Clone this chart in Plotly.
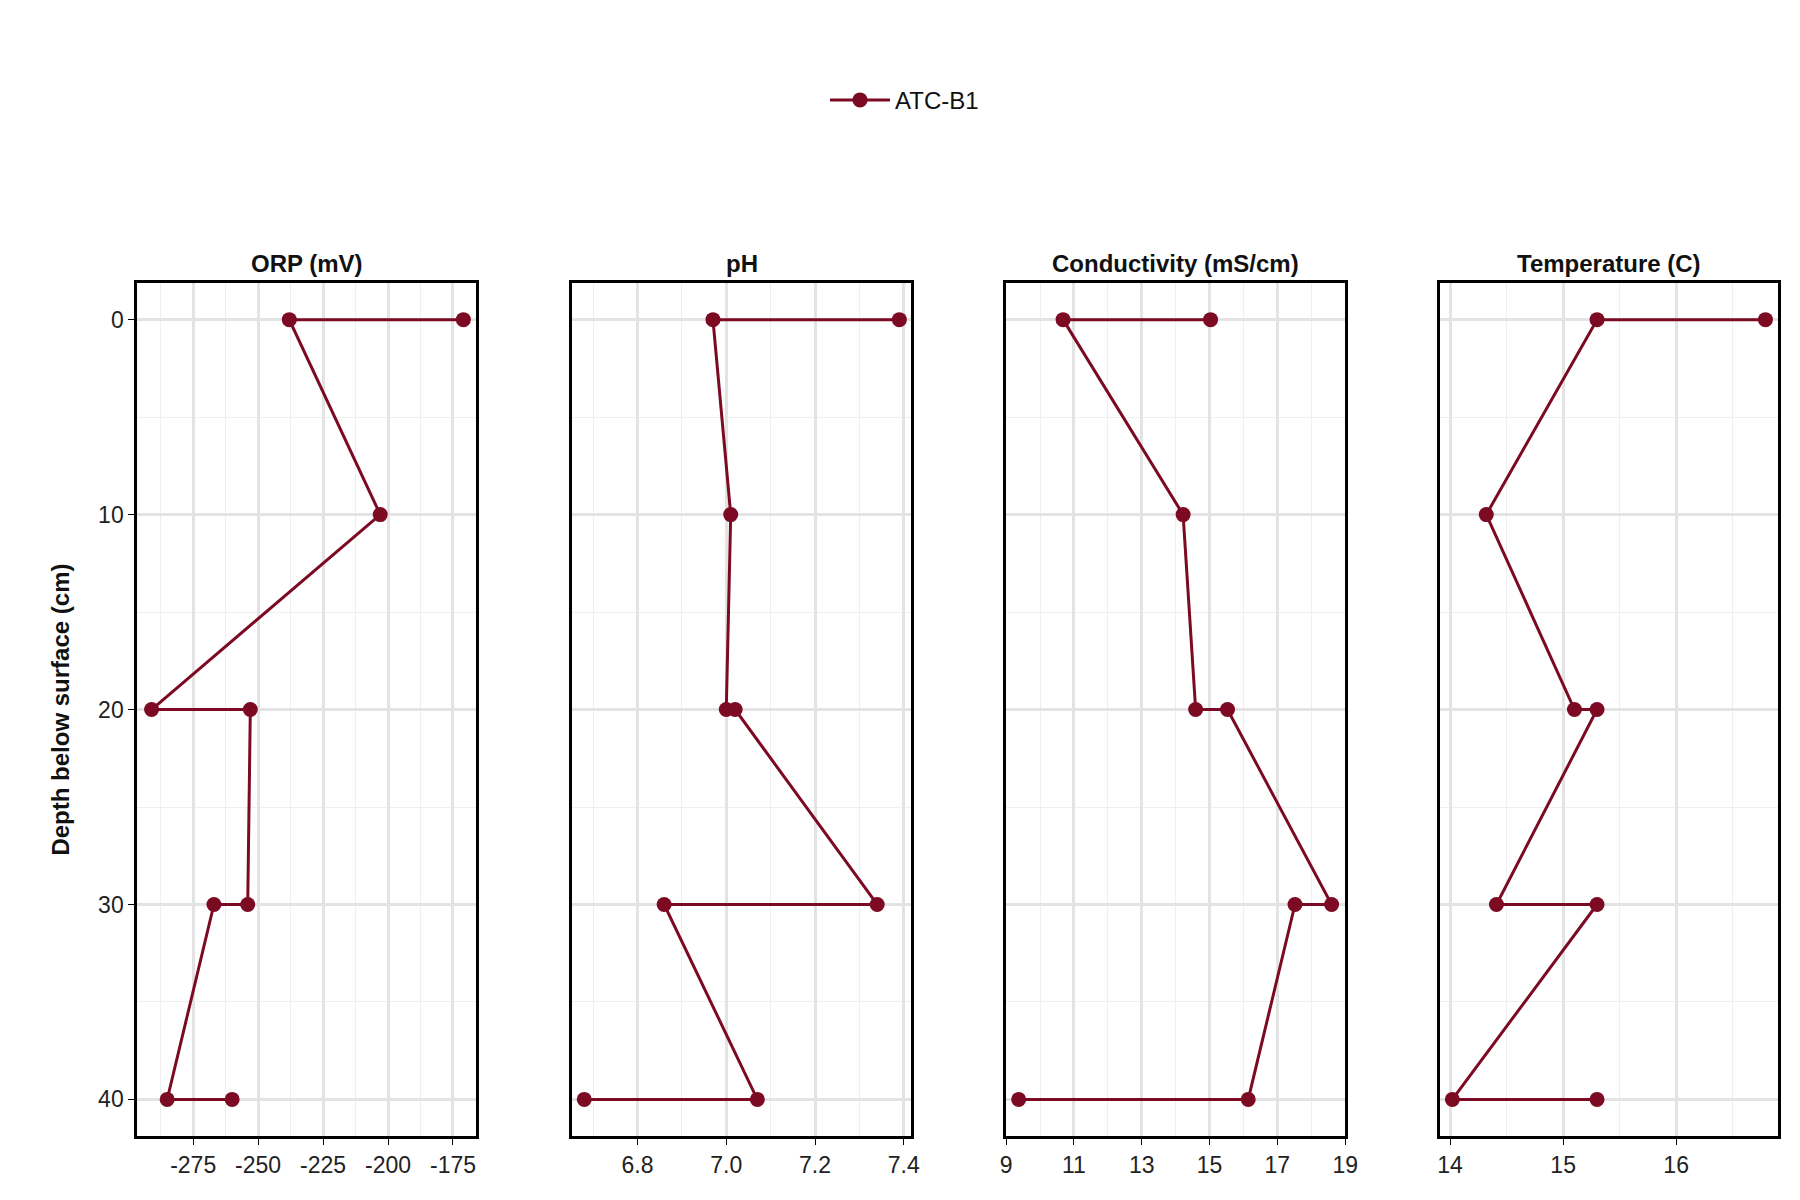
import plotly.graph_objects as go

# Depth profile data (ATC-B1)
depth = [0, 0, 10, 20, 20, 30, 30, 40, 40]
orp = [-171, -238, -203, -291, -253, -254, -267, -285, -260]
ph = [7.39, 6.97, 7.01, 7.00, 7.02, 7.34, 6.86, 7.07, 6.68]
cond = [15.03, 10.68, 14.22, 14.59, 15.53, 18.6, 17.52, 16.14, 9.37]
temp = [16.79, 15.3, 14.32, 15.1, 15.3, 14.41, 15.3, 14.02, 15.3]

titles = ["ORP (mV)", "pH", "Conductivity (mS/cm)", "Temperature (C)"]
series = [orp, ph, cond, temp]
ranges = [[-296.5, -166], [6.653, 7.417], [9, 19], [13.91, 16.9]]
tickvals = [[-275, -250, -225, -200, -175], [6.8, 7.0, 7.2, 7.4],
            [9, 11, 13, 15, 17, 19], [14, 15, 16]]
ticktext = [["-275", "-250", "-225", "-200", "-175"], ["6.8", "7.0", "7.2", "7.4"],
            ["9", "11", "13", "15", "17", "19"], ["14", "15", "16"]]
minor = [12.5, 0.1, 1, 0.5]
domains = [[108, 405], [489, 786], [869, 1166], [1249, 1545]]

color = "#7b0a22"
W = 1560.0
fig = go.Figure()
for i, vals in enumerate(series):
    n = "" if i == 0 else str(i + 1)
    fig.add_trace(go.Scatter(
        x=vals, y=depth, mode="lines+markers", name="ATC-B1", showlegend=(i == 0),
        line=dict(color=color, width=3), marker=dict(color=color, size=15),
        xaxis="x" + n, yaxis="y" + n))
    d = domains[i]
    fig.update_layout(**{
        "xaxis" + n: dict(
            domain=[d[0] / W, d[1] / W], range=ranges[i], anchor="y" + n,
            tickvals=tickvals[i], ticktext=ticktext[i],
            showgrid=True, gridcolor="#e3e3e3", gridwidth=2.5,
            minor=dict(tick0=tickvals[i][0], dtick=minor[i], showgrid=True,
                       gridcolor="#efefef", gridwidth=1.2),
            showline=True, linecolor="black", linewidth=3, mirror=True,
            ticks="outside", ticklen=6, tickcolor="black", zeroline=False,
            tickfont=dict(size=23, color="#222")),
        "yaxis" + n: dict(
            domain=[1 - 978 / 1040, 1 - 238 / 1040], range=[41.9, -1.9], anchor="x" + n,
            tick0=0, dtick=10, showticklabels=(i == 0),
            ticks="outside" if i == 0 else "", ticklen=6, tickcolor="black",
            showgrid=True, gridcolor="#e3e3e3", gridwidth=2.5,
            minor=dict(dtick=5, showgrid=True, gridcolor="#efefef", gridwidth=1.2),
            showline=True, linecolor="black", linewidth=3, mirror=True, zeroline=False,
            tickfont=dict(size=23, color="#222"),
            title=dict(text="<b>Depth below surface (cm)</b>", standoff=22,
                       font=dict(size=24, color="#111")) if i == 0 else None),
    })
    fig.add_annotation(text="<b>" + titles[i] + "</b>", xref="paper", yref="paper",
                       x=(d[0] + d[1]) / 2 / W, xanchor="center",
                       y=1 - 208 / 1040, showarrow=False,
                       font=dict(size=24, color="#111"))

fig.update_layout(
    width=1800, height=1200, plot_bgcolor="white", paper_bgcolor="white",
    font=dict(family="Liberation Sans, Arial"),
    margin=dict(l=0, r=0, t=0, b=0),
    legend=dict(orientation="h", x=0.5, xanchor="center", y=1 - 80 / 1040, yanchor="middle",
                itemwidth=60, font=dict(size=24, color="#111")),
)

fig.write_html("out.html")
